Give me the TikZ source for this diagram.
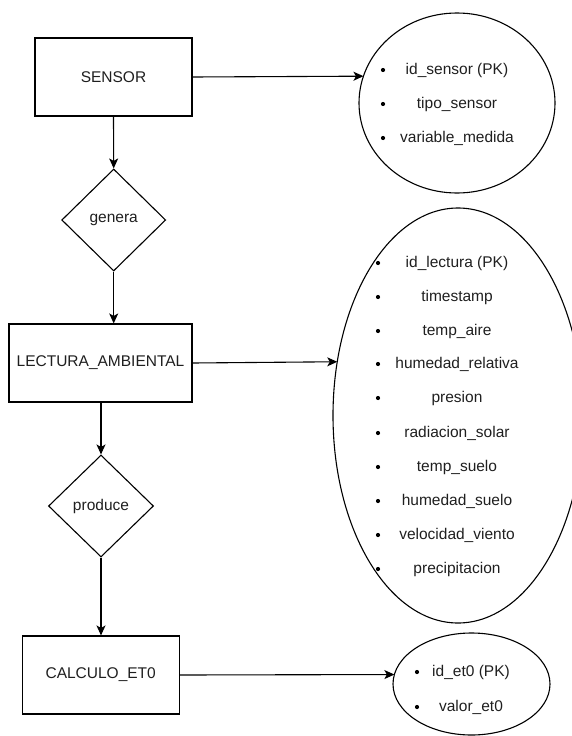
\documentclass[tikz,border=0pt]{standalone}
\usepackage{fontspec}
\setmainfont{Liberation Sans}
\usetikzlibrary{shapes.geometric,arrows.meta}
\begin{document}
\begin{tikzpicture}[x=1pt,y=-1pt,
  every node/.style={font=\fontsize{15.5}{18}\selectfont, text=black!88},
  entity/.style={draw, line width=1.1pt, rectangle, minimum height=78pt, inner sep=0pt},
  relation/.style={draw, line width=1.1pt, diamond, inner sep=0pt},
  attrs/.style={draw, line width=1.1pt, ellipse, inner sep=0pt, outer sep=0pt},
  bullet/.style={circle, fill=black, inner sep=0pt, minimum size=4.2pt},
  item/.style={inner sep=0pt, anchor=center},
  link/.style={line width=1.1pt, -{Stealth[length=10pt, width=9pt, inset=2.5pt]}}
]
\useasboundingbox (0,0) rectangle (572,736);

% entities
\node[entity, minimum width=157pt] (sensor) at (113.5,77) {SENSOR};
\node[entity, minimum width=183pt] (lectura) at (100.5,363) {LECTURA\_AMBIENTAL};
\node[entity, minimum width=157pt] (calculo) at (100.7,675) {CALCULO\_ET0};

% relationships
\node[relation, minimum width=104pt, minimum height=102pt] (genera) at (113.7,220) {genera};
\node[relation, minimum width=105pt, minimum height=102pt] (produce) at (101,506) {produce};

% attribute ellipses
\node[attrs, minimum width=196pt, minimum height=180pt] (e1) at (457,103) {};
\node[attrs, minimum width=250pt, minimum height=415pt] (e2) at (458,415.5) {};
\node[attrs, minimum width=157pt, minimum height=102pt] (e3) at (471.5,684) {};

% SENSOR attributes
\node[bullet] (b11) at (383,70) {};
\node[item] (t11) at (457,70) {id\_sensor (PK)};
\node[bullet] (b12) at (383,104) {};
\node[item] (t12) at (457,104) {tipo\_sensor};
\node[bullet] (b13) at (383,138) {};
\node[item] (t13) at (457,138) {variable\_medida};

% LECTURA_AMBIENTAL attributes
\foreach \y/\t [count=\i] in {
  263/id\_lectura (PK),
  297/timestamp,
  331/temp\_aire,
  364/humedad\_relativa,
  398/presion,
  433/radiacion\_solar,
  467/temp\_suelo,
  501/humedad\_suelo,
  535/velocidad\_viento,
  569/precipitacion}{
  \node[bullet] (b2\i) at (378,\y) {};
  \node[item] (t2\i) at (457,\y) {\t};
}

% CALCULO_ET0 attributes
\node[bullet] (b31) at (417,672) {};
\node[item] (t31) at (471,672) {id\_et0 (PK)};
\node[bullet] (b32) at (417,707) {};
\node[item] (t32) at (471,707) {valor\_et0};

% vertical flow
\draw[link] (sensor.south) -- (genera.north);
\draw[link] (genera.south) -- (genera.south |- lectura.north);
\draw[link] (produce.north |- lectura.south) -- (produce.north);
\draw[link] (produce.south) -- (produce.south |- calculo.north);

% entity to attributes
\draw[link] (sensor.east) -- (e1.164.5);
\draw[link] (lectura.east) -- (e2.156.5);
\draw[link] (calculo.east) -- (e3.173.4);
\end{tikzpicture}
\end{document}
